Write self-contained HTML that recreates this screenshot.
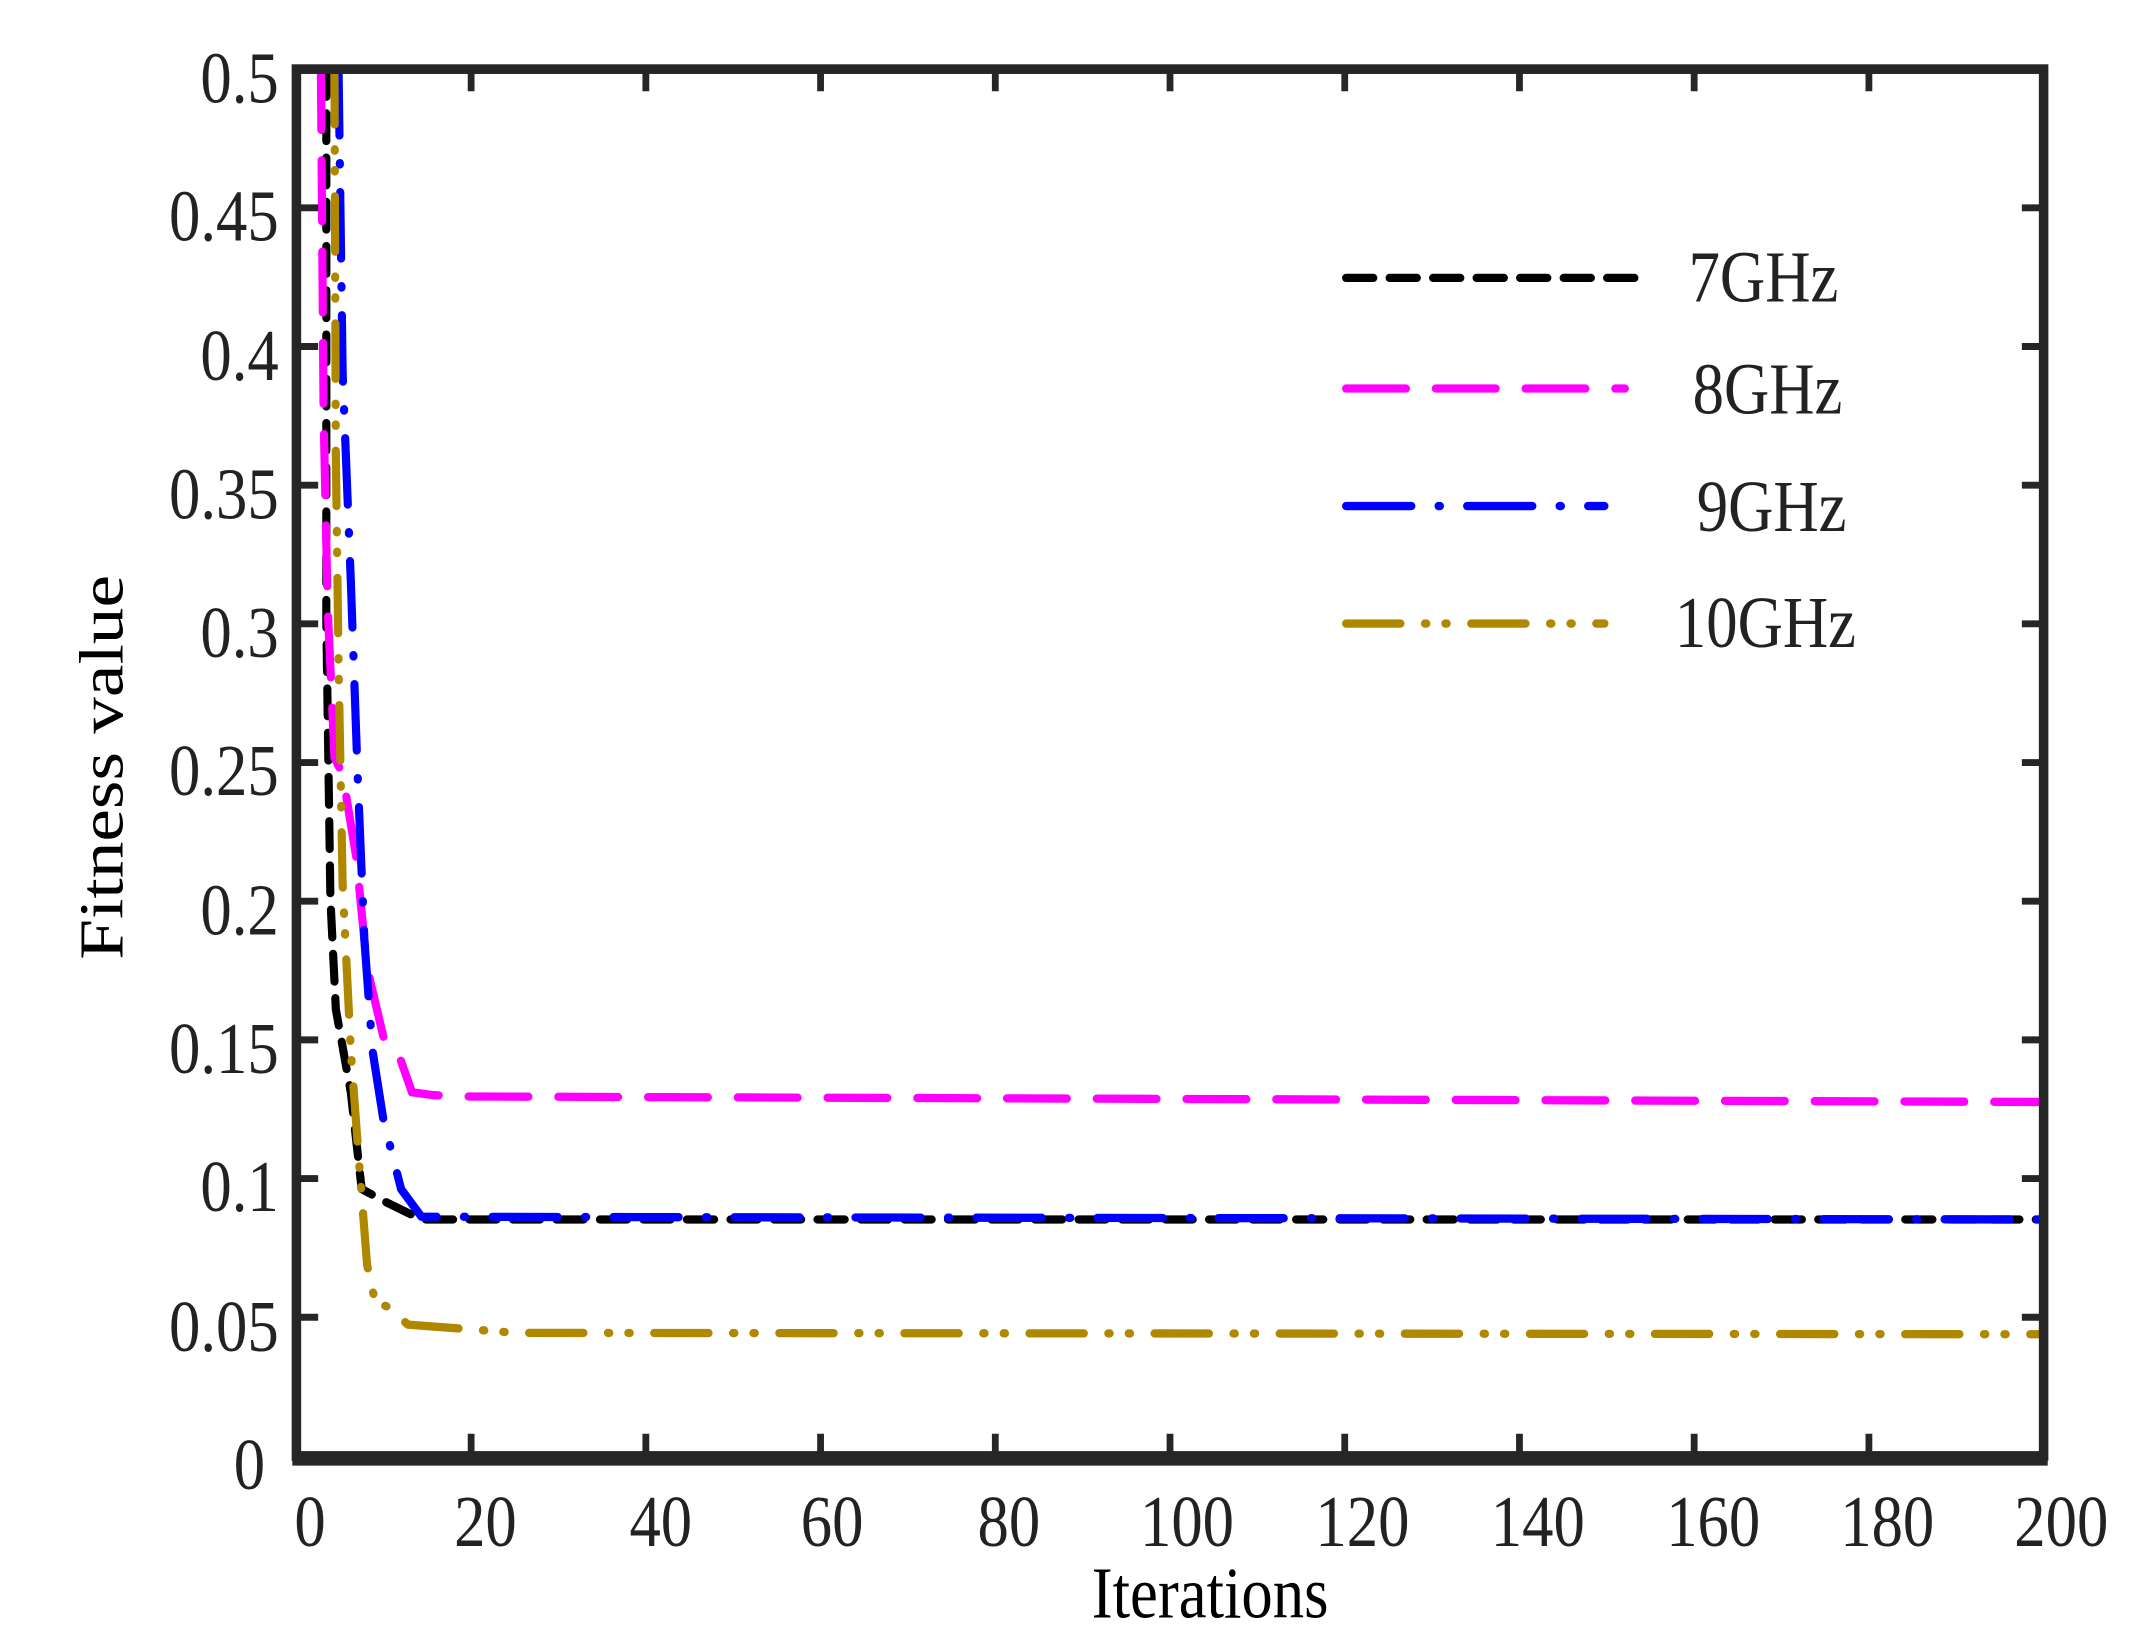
<!DOCTYPE html>
<html><head><style>html,body{margin:0;padding:0;background:#fff}svg{display:block}</style></head>
<body>
<svg width="2132" height="1626" viewBox="0 0 1568 1176" preserveAspectRatio="none" xmlns="http://www.w3.org/2000/svg">
<rect width="1568" height="1176" fill="#fff"/>
<g fill="none" stroke-linecap="round" stroke-linejoin="round" stroke-width="6">
<polyline stroke="#000" stroke-dasharray="20 12" points="240,50 240,450 243,650 247,730 258,790 266,860 285,870 310,882 1503,882"/>
<polyline stroke="#ff00ff" stroke-dasharray="44 22" points="236,50 238,300 241,440 246,548 252,560 262,620 270,700 282,750 293,762 303,790 318,792 340,793 1503,797"/>
<polyline stroke="#0000ff" stroke-dasharray="48 20 1 20" points="249,50 252,270 258,420 263,560 268,680 274,760 282,810 295,860 310,880 1503,882"/>
<polyline stroke="#b08800" stroke-dasharray="40 18 1 14 1 18" points="246,50 247,330 249,480 252,640 258,760 264,840 270,915 276,942 285,945 300,958 380,964 1503,965"/>
</g>
<g stroke="#262626" stroke-width="7" fill="none">
<rect x="218" y="50" width="1285" height="1003"/>
</g>
<line x1="215" y1="1055" x2="1506" y2="1055" stroke="#262626" stroke-width="10"/>
<g stroke="#262626" stroke-width="5">
<path d="M346.5,1053v-16M475,1053v-16M603.5,1053v-16M732,1053v-16M860.5,1053v-16M989,1053v-16M1117.5,1053v-16M1246,1053v-16M1374.5,1053v-16"/>
<path d="M346.5,50v16M475,50v16M603.5,50v16M732,50v16M860.5,50v16M989,50v16M1117.5,50v16M1246,50v16M1374.5,50v16"/>
<path d="M218,952.7h16M218,852.4h16M218,752.1h16M218,651.8h16M218,551.5h16M218,451.2h16M218,350.9h16M218,250.6h16M218,150.3h16"/>
<path d="M1503,952.7h-16M1503,852.4h-16M1503,752.1h-16M1503,651.8h-16M1503,551.5h-16M1503,451.2h-16M1503,350.9h-16M1503,250.6h-16M1503,150.3h-16"/>
</g>
<g font-family="Liberation Serif, serif" font-size="53" fill="#222" text-anchor="end">
<text transform="translate(195,1077) scale(0.87,1)">0</text>
<text transform="translate(205,977) scale(0.87,1)">0.05</text>
<text transform="translate(205,876) scale(0.87,1)">0.1</text>
<text transform="translate(205,776) scale(0.87,1)">0.15</text>
<text transform="translate(205,676) scale(0.87,1)">0.2</text>
<text transform="translate(205,575) scale(0.87,1)">0.25</text>
<text transform="translate(205,475) scale(0.87,1)">0.3</text>
<text transform="translate(205,375) scale(0.87,1)">0.35</text>
<text transform="translate(205,275) scale(0.87,1)">0.4</text>
<text transform="translate(205,174) scale(0.87,1)">0.45</text>
<text transform="translate(205,74) scale(0.87,1)">0.5</text>
</g>
<g font-family="Liberation Serif, serif" font-size="53" fill="#222" text-anchor="middle">
<text transform="translate(228,1118) scale(0.87,1)">0</text>
<text transform="translate(357,1118) scale(0.87,1)">20</text>
<text transform="translate(486,1118) scale(0.87,1)">40</text>
<text transform="translate(612,1118) scale(0.87,1)">60</text>
<text transform="translate(742,1118) scale(0.87,1)">80</text>
<text transform="translate(873,1118) scale(0.87,1)">100</text>
<text transform="translate(1002,1118) scale(0.87,1)">120</text>
<text transform="translate(1131,1118) scale(0.87,1)">140</text>
<text transform="translate(1260,1118) scale(0.87,1)">160</text>
<text transform="translate(1388,1118) scale(0.87,1)">180</text>
<text transform="translate(1516,1118) scale(0.87,1)">200</text>
<text transform="translate(890,1170) scale(0.87,1)" fill="#000">Iterations</text>
<text transform="translate(90,555) rotate(-90) scale(1,0.87)" fill="#000">Fitness value</text>
</g>
<g fill="none" stroke-width="6" stroke-linecap="round">
<line x1="990" y1="201" x2="1205" y2="201" stroke="#000" stroke-dasharray="20 12"/>
<line x1="990" y1="281" x2="1195" y2="281" stroke="#ff00ff" stroke-dasharray="44 22"/>
<line x1="990" y1="366" x2="1180" y2="366" stroke="#0000ff" stroke-dasharray="48 20 1 20"/>
<line x1="990" y1="451" x2="1180" y2="451" stroke="#b08800" stroke-dasharray="40 18 1 14 1 18"/>
</g>
<g font-family="Liberation Serif, serif" font-size="53" fill="#222" text-anchor="end">
<text transform="translate(1352,218) scale(0.87,1)">7GHz</text>
<text transform="translate(1355,299) scale(0.87,1)">8GHz</text>
<text transform="translate(1358,384) scale(0.87,1)">9GHz</text>
<text transform="translate(1365,468) scale(0.87,1)">10GHz</text>
</g>
</svg>
</body></html>
